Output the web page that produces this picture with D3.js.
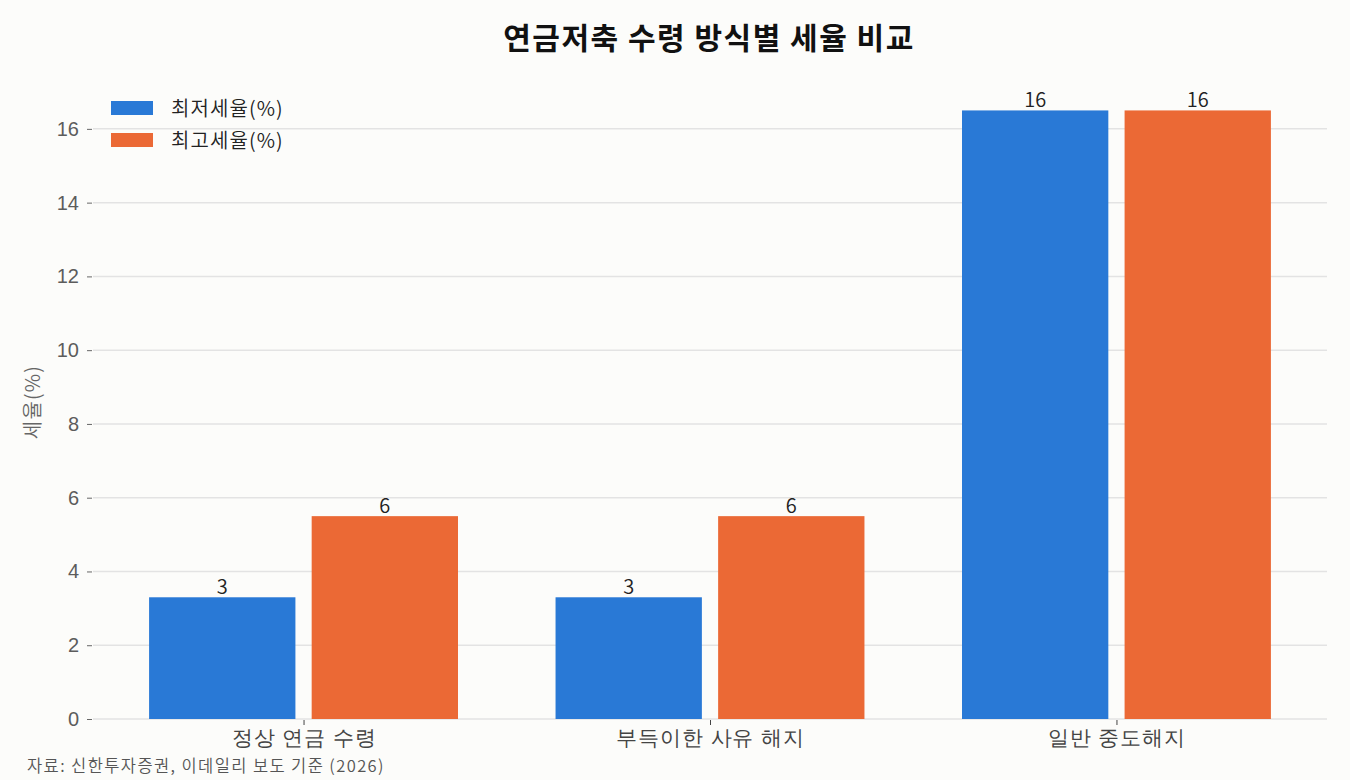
<!DOCTYPE html>
<meta charset="utf-8">
<title>연금저축 수령 방식별 세율 비교</title>
<style>
    body { margin: 0; background: #fcfcfa; }
    svg { font-family: "Noto Sans CJK KR", "Noto Sans", sans-serif; }
</style>
<body>
<script src="https://cdn.jsdelivr.net/npm/d3@7"></script>
<script>

    var categories = ["정상 연금 수령", "부득이한 사유 해지", "일반 중도해지"],
        seriesNames = ["최저세율(%)", "최고세율(%)"],
        minRates = [3.3, 3.3, 16.5],
        maxRates = [5.5, 5.5, 16.5],
        yTicks = [0, 2, 4, 6, 8, 10, 12, 14, 16],
        colors = ["#2979d6", "#eb6935"];

    var w = 1350,
        h = 780,
        plotLeft = 93,
        plotRight = 1327,
        plotTop = 80,
        plotBottom = 719;

    var svg = d3.select("body").append("svg")
        .attr("width", w)
        .attr("height", h);

    svg.append("rect").attr("width", w).attr("height", h).attr("fill", "#fcfcfa");

    // bars sit at ±0.2 of each category, width 0.36 (matplotlib-like margins)
    var x = d3.scaleLinear().domain([-0.518, 2.518]).range([plotLeft, plotRight]),
        y = d3.scaleLinear().domain([0, 17.325]).range([plotBottom, plotTop]);

    var barW = 0.36,
        offsets = [-0.2, 0.2];

    // labels round half to even, like "%.0f"
    function fmt(d) {
        var r = Math.round(d);
        if (Math.abs(d % 1) === 0.5 && r % 2 !== 0) r -= 1;
        return String(r);
    }

    // grid
    svg.append("g").selectAll("line")
        .data(yTicks)
        .enter().append("line")
        .attr("x1", plotLeft).attr("x2", plotRight)
        .attr("y1", function(d) { return y(d); })
        .attr("y2", function(d) { return y(d); })
        .attr("stroke", "#e3e3e3")
        .attr("stroke-width", 1.5);

    // y axis
    var yAxis = svg.append("g")
        .attr("transform", "translate(" + (plotLeft - 1) + ",0)")
        .call(d3.axisLeft(y).tickValues(yTicks).tickSize(5).tickPadding(8));
    yAxis.select(".domain").remove();
    yAxis.selectAll("line").attr("stroke", "#666");
    yAxis.selectAll("text").attr("fill", "#5c5c5c").style("font-size", "20px")
        .style("font-weight", 300);

    // x axis
    var xAxis = svg.append("g")
        .attr("transform", "translate(0," + (plotBottom + 1) + ")")
        .call(d3.axisBottom(x).tickValues(d3.range(categories.length))
            .tickFormat(function(i) { return categories[i]; })
            .tickSize(5).tickPadding(5));
    xAxis.select(".domain").remove();
    xAxis.selectAll("line").attr("stroke", "#444");
    xAxis.selectAll("text").attr("fill", "#444").style("font-size", "21px")
        .style("font-weight", 350)
        .style("letter-spacing", "0.9px");

    // bars
    [minRates, maxRates].forEach(function(vals, s) {
        var g = svg.append("g");
        g.selectAll("rect")
            .data(vals)
            .enter().append("rect")
            .attr("x", function(d, i) { return x(i + offsets[s] - barW / 2); })
            .attr("width", x(barW) - x(0))
            .attr("y", function(d) { return y(d); })
            .attr("height", function(d) { return y(0) - y(d); })
            .attr("fill", colors[s]);
        g.selectAll("text")
            .data(vals)
            .enter().append("text")
            .attr("x", function(d, i) { return x(i + offsets[s]); })
            .attr("y", function(d) { return y(d) - 3; })
            .attr("text-anchor", "middle")
            .attr("fill", "#222")
            .style("font-size", "20px")
            .style("font-weight", 350)
            .text(fmt);
    });

    // legend
    var legend = svg.append("g").selectAll("g")
        .data(seriesNames)
        .enter().append("g")
        .attr("transform", function(d, i) { return "translate(111," + (101 + i * 32) + ")"; });
    legend.append("rect")
        .attr("width", 42).attr("height", 14)
        .attr("fill", function(d, i) { return colors[i]; });
    legend.append("text")
        .attr("x", 60).attr("y", 15)
        .attr("fill", "#222")
        .style("font-size", "20px")
        .style("font-weight", 350)
        .style("letter-spacing", "1.1px")
        .text(function(d) { return d; });

    // title
    svg.append("text")
        .attr("x", 709).attr("y", 49)
        .attr("text-anchor", "middle")
        .attr("fill", "#111")
        .style("font-size", "30px")
        .style("font-weight", "bold")
        .style("letter-spacing", "1.5px")
        .text("연금저축 수령 방식별 세율 비교");

    // y label
    svg.append("text")
        .attr("transform", "translate(40,402)rotate(-90)")
        .attr("text-anchor", "middle")
        .attr("fill", "#666")
        .style("font-size", "20px")
        .style("font-weight", 350)
        .style("letter-spacing", "1.2px")
        .text("세율(%)");

    // source
    svg.append("text")
        .attr("x", 27).attr("y", 772)
        .attr("fill", "#555")
        .style("font-size", "16.5px")
        .style("font-weight", 350)
        .style("letter-spacing", "1.4px")
        .text("자료: 신한투자증권, 이데일리 보도 기준 (2026)");

</script>
